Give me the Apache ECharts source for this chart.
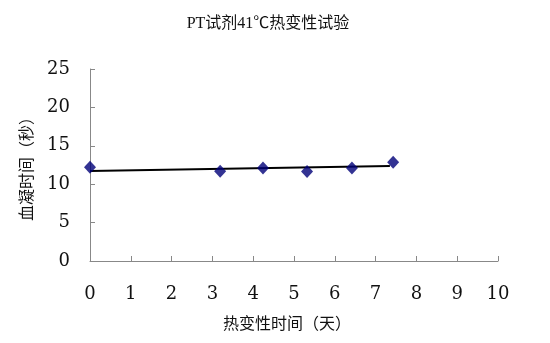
<!DOCTYPE html>
<html><head><meta charset="utf-8">
<script src="https://cdn.jsdelivr.net/npm/echarts@6/dist/echarts.min.js"></script>
<style>html,body{margin:0;padding:0;background:#fff}#c{width:550px;height:343px}</style>
</head><body><div id="c"></div>
<script>
// x positions as they appear against the drawn axis
const days = [0, 3.19, 4.24, 5.32, 6.42, 7.43];
const clotTimes = [12.2, 11.7, 12.1, 11.65, 12.1, 12.85];
const trendX = [0, 7.35];
const trendY = [11.73, 12.37];
const xTicks = [0,1,2,3,4,5,6,7,8,9,10];
const yTicks = [0,5,10,15,20,25];

const NUMFONT = '"DejaVu Serif","Liberation Serif",serif';
const FONT = '"Liberation Serif","Noto Sans CJK SC",serif';
const chart = echarts.init(document.getElementById('c'));
chart.setOption({
  animation: false,
  backgroundColor: '#fff',
  title: {
    text: 'PT试剂41℃热变性试验',
    left: 263, top: 11, textAlign: 'center',
    textStyle: {fontFamily: FONT, fontSize: 16, fontWeight: 'normal', color: '#111'}
  },
  grid: {left: 90, right: 52, top: 69, bottom: 82, containLabel: false},
  xAxis: {
    type: 'value', min: xTicks[0], max: xTicks[xTicks.length-1], interval: 1,
    name: '热变性时间（天）', nameLocation: 'middle', nameGap: 56,
    nameTextStyle: {fontFamily: FONT, fontSize: 16, color: '#111', padding:[0,14,0,0]},
    axisLine: {lineStyle: {color: '#888', width: 1}},
    axisTick: {inside: true, length: 5, lineStyle: {color: '#888'}},
    axisLabel: {fontFamily: NUMFONT, fontSize: 18, color: '#111', margin: 24},
    splitLine: {show: false}
  },
  yAxis: {
    type: 'value', min: yTicks[0], max: yTicks[yTicks.length-1], interval: 5,
    name: '血凝时间（秒）', nameLocation: 'middle', nameGap: 53, nameRotate: 90,
    nameTextStyle: {fontFamily: FONT, fontSize: 16, color: '#111'},
    axisLine: {show: true, lineStyle: {color: '#888', width: 1}},
    axisTick: {show: true, inside: true, length: 5, lineStyle: {color: '#888'}},
    axisLabel: {fontFamily: NUMFONT, fontSize: 18, color: '#111', margin: 20},
    splitLine: {show: false}
  },
  series: [
    {
      type: 'line', data: trendX.map((x,i)=>[x, trendY[i]]),
      showSymbol: false, lineStyle: {color: '#000', width: 2}, z: 2
    },
    {
      type: 'scatter', data: days.map((d,i)=>[d, clotTimes[i]]),
      symbol: 'diamond', symbolSize: [12, 13],
      itemStyle: {color: '#000078'}, z: 3
    }
  ]
});
</script></body></html>
